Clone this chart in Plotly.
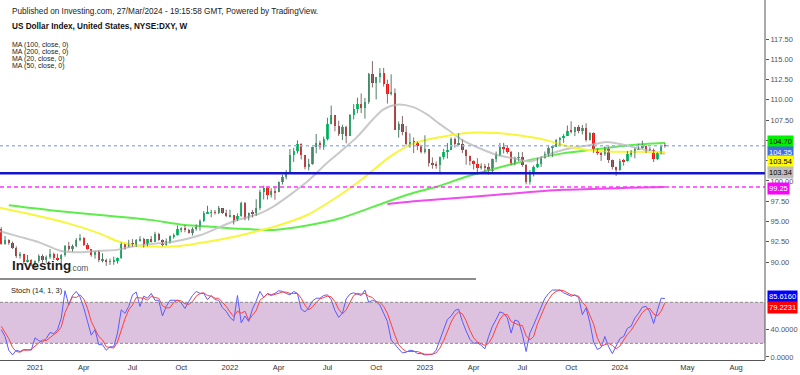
import plotly.graph_objects as go
import pandas as pd

# ---------------- DATA (weekly DXY candles) ----------------
week_start = "2020-11-02"

opens = [94.04, 92.20, 92.75, 92.39, 91.79, 90.70, 90.98, 90.02, 90.24,
         89.94, 90.10, 90.77, 90.23, 90.58, 91.04, 90.48, 90.36, 90.88, 91.98, 91.67, 91.92, 92.77, 93.02, 92.16, 91.56, 90.85, 91.28, 90.22, 90.31, 90.01, 90.03, 90.14, 90.55, 92.23, 91.85, 92.23, 92.12, 92.69, 92.90, 92.17, 92.80, 92.51, 93.50, 92.67, 92.13, 92.58, 93.20, 93.33, 94.04, 94.08, 93.96, 93.60, 94.12, 94.32, 95.12, 96.03, 96.09, 96.17, 96.09, 96.65, 96.00,
         95.67, 95.75, 95.17, 95.64, 97.27, 95.48, 96.08, 96.03, 96.61, 98.66, 99.13, 98.23, 98.80, 98.62, 99.83, 100.53, 101.12, 103.18, 103.66, 104.57, 103.15, 101.67, 102.15, 104.15, 104.69, 104.20, 105.14, 107.01, 108.07, 106.73, 105.85, 106.63, 105.57, 108.16, 108.82, 109.54, 109.00, 109.74, 113.19, 112.12, 112.76, 113.31, 111.98, 110.75, 110.87, 106.30, 106.98, 106.04, 104.54, 104.82, 104.70, 104.32,
         103.52, 103.89, 102.20, 101.99, 101.92, 102.92, 103.63, 103.86, 105.21, 104.52, 104.58, 103.86, 103.12, 102.51, 102.10, 101.55, 101.83, 101.66, 101.27, 102.69, 103.20, 104.21, 104.02, 103.56, 102.27, 102.89, 102.91, 101.92, 99.91, 101.07, 101.70, 102.04, 102.85, 103.37, 104.08, 104.24, 105.07, 105.32, 105.58, 106.17, 106.04, 106.65, 106.16, 106.56, 105.02, 105.87, 103.90, 103.40, 103.27, 104.00, 102.58, 101.70,
         101.33, 102.41, 102.40, 103.29, 103.47, 103.92, 104.11, 104.30, 103.86, 103.86, 102.71, 103.43, 104.43]

highs = [94.30, 93.21, 92.80, 92.53, 91.95, 91.25, 91.02, 90.87, 90.34,
         90.21, 90.95, 90.95, 90.81, 91.60, 91.16, 91.03, 90.98, 92.10, 92.50, 92.16, 92.94, 93.44, 93.07, 92.35, 91.58, 91.32, 91.43, 91.10, 90.42, 90.42, 90.67, 90.56, 92.40, 92.25, 92.74, 92.83, 92.84, 93.19, 93.00, 92.85, 93.20, 93.73, 93.60, 92.80, 92.91, 93.27, 93.53, 94.50, 94.28, 94.56, 94.10, 94.29, 94.64, 95.27, 96.27, 96.94, 96.45, 96.43, 96.91, 96.65, 96.46,
         96.46, 95.81, 96.00, 97.44, 97.40, 96.11, 96.43, 97.74, 98.93, 99.42, 99.29, 99.10, 99.25, 99.94, 100.76, 101.34, 103.93, 104.07, 105.01, 104.64, 103.22, 102.74, 104.24, 105.79, 104.96, 105.47, 107.79, 109.29, 108.08, 107.43, 106.93, 106.81, 108.25, 109.48, 110.27, 110.79, 110.23, 113.32, 114.78, 112.83, 113.92, 113.95, 112.48, 113.15, 111.41, 107.33, 108.00, 106.78, 105.87, 105.36, 104.87, 104.44,
         105.63, 103.95, 102.90, 102.39, 103.01, 103.96, 104.67, 105.36, 105.36, 105.88, 105.11, 103.90, 103.14, 102.54, 102.81, 102.17, 102.11, 102.20, 102.76, 103.63, 104.70, 104.70, 104.40, 103.70, 103.00, 103.55, 103.56, 102.07, 101.34, 101.90, 102.84, 103.03, 103.63, 104.44, 104.28, 105.16, 105.43, 105.78, 106.84, 107.35, 106.68, 106.89, 106.89, 107.11, 106.00, 106.00, 104.00, 103.57, 104.26, 104.25, 102.64, 101.76,
         102.73, 102.73, 103.69, 103.81, 104.10, 104.60, 104.97, 104.39, 104.16, 104.00, 103.52, 104.49, 104.73]

lows = [92.13, 92.13, 92.13, 91.61, 90.50, 90.42, 89.72, 89.95, 89.52,
        89.21, 89.92, 89.93, 89.91, 90.40, 90.25, 90.13, 89.68, 90.67, 91.36, 91.30, 91.82, 92.56, 91.97, 91.51, 90.66, 90.42, 89.98, 89.95, 89.53, 89.65, 89.66, 89.81, 90.39, 91.51, 91.82, 91.90, 91.86, 92.52, 91.78, 91.94, 92.41, 92.48, 92.62, 91.94, 92.01, 92.29, 92.88, 93.26, 93.67, 93.67, 93.50, 93.28, 93.87, 93.87, 94.95, 95.98, 95.52, 95.85, 95.91, 95.92, 95.53,
        95.50, 94.63, 95.07, 95.58, 95.14, 95.13, 95.50, 95.70, 96.40, 97.72, 97.71, 97.95, 97.68, 98.61, 99.56, 100.20, 100.95, 102.35, 103.38, 102.65, 101.43, 101.30, 102.00, 103.41, 103.87, 103.84, 104.99, 106.99, 106.12, 105.54, 105.05, 104.64, 105.54, 107.59, 108.35, 108.36, 107.68, 109.50, 111.53, 110.05, 112.11, 111.64, 109.54, 110.55, 106.27, 105.34, 105.63, 104.38, 104.09, 103.44, 103.80, 103.40,
        103.37, 101.77, 101.51, 101.50, 100.82, 102.64, 102.76, 103.80, 104.10, 104.31, 103.44, 102.02, 101.92, 101.41, 100.79, 101.40, 101.00, 100.79, 101.02, 102.30, 103.09, 103.40, 103.35, 101.92, 101.92, 102.40, 101.75, 99.58, 99.55, 100.55, 101.59, 101.73, 102.75, 103.00, 102.94, 104.16, 104.42, 104.70, 105.55, 105.86, 105.53, 105.88, 105.73, 104.84, 104.97, 103.45, 103.18, 102.47, 103.10, 102.22, 101.42, 100.62,
        101.26, 101.89, 102.38, 102.93, 102.79, 103.86, 103.99, 103.44, 103.71, 102.33, 102.57, 103.26, 104.09]

closes = [92.23, 92.75, 92.39, 91.79, 90.70, 90.98, 90.02, 90.24, 89.94,
          90.10, 90.77, 90.23, 90.58, 91.04, 90.48, 90.36, 90.88, 91.98, 91.67, 91.92, 92.77, 93.02, 92.16, 91.56, 90.85, 91.28, 90.22, 90.31, 90.01, 90.03, 90.14, 90.55, 92.23, 91.85, 92.23, 92.12, 92.69, 92.90, 92.17, 92.80, 92.51, 93.50, 92.67, 92.13, 92.58, 93.20, 93.33, 94.04, 94.08, 93.96, 93.60, 94.12, 94.32, 95.12, 96.03, 96.09, 96.17, 96.09, 96.65, 96.00, 95.67,
          95.75, 95.17, 95.64, 97.27, 95.48, 96.08, 96.03, 96.61, 98.66, 99.13, 98.23, 98.80, 98.62, 99.83, 100.53, 101.12, 103.18, 103.66, 104.57, 103.15, 101.67, 102.15, 104.15, 104.69, 104.20, 105.14, 107.01, 108.07, 106.73, 105.85, 106.63, 105.57, 108.16, 108.82, 109.54, 109.00, 109.74, 113.19, 112.12, 112.76, 113.31, 111.98, 110.75, 110.87, 106.30, 106.98, 106.04, 104.54, 104.82, 104.70, 104.32, 103.52,
          103.89, 102.20, 101.99, 101.92, 102.92, 103.63, 103.86, 105.21, 104.52, 104.58, 103.86, 103.12, 102.51, 102.10, 101.55, 101.83, 101.66, 101.27, 102.69, 103.20, 104.21, 104.02, 103.56, 102.27, 102.89, 102.91, 101.92, 99.91, 101.07, 101.70, 102.04, 102.85, 103.37, 104.08, 104.24, 105.07, 105.32, 105.58, 106.17, 106.04, 106.65, 106.16, 106.56, 105.02, 105.87, 103.90, 103.40, 103.27, 104.00, 102.58, 101.70, 101.33,
          102.41, 102.40, 103.29, 103.47, 103.92, 104.11, 104.30, 103.86, 103.86, 102.71, 103.43, 104.43, 104.35]

# Stochastic (14, 1, 3): %K (blue) and %D (red), one value per weekly candle
stoch_k = [40, 30, 10, 3, 10, 8, 11, 11, 10, 28, 24, 22, 27, 36, 34, 40, 57, 97, 76, 90,
           96, 88, 72, 52, 32, 40, 18, 18, 10, 15, 15, 35, 69, 64, 74, 91, 95, 74, 89, 86,
           93, 83, 83, 60, 74, 83, 83, 83, 79, 71, 81, 90, 96, 93, 93, 84, 90, 84, 83, 72,
           67, 58, 53, 90, 50, 60, 52, 70, 82, 96, 87, 93, 91, 93, 97, 96, 93, 91, 96, 93,
           70, 66, 72, 82, 86, 86, 90, 91, 84, 68, 58, 64, 85, 92, 94, 92, 90, 98, 80, 83,
           81, 76, 64, 52, 25, 18, 12, 6, 7, 10, 9, 5, 5, 3, 4, 4, 10, 25, 38, 55,
           60, 68, 70, 52, 38, 26, 20, 21, 17, 12, 30, 45, 55, 66, 64, 57, 35, 54, 52, 33,
           8, 35, 47, 61, 74, 86, 93, 98, 98, 98, 94, 91, 89, 91, 87, 62, 72, 50, 22, 11,
           14, 30, 15, 5, 15, 27, 30, 42, 45, 57, 64, 73, 74, 66, 49, 66, 86, 85.6160]
stoch_d = [45, 36, 27, 14, 8, 7, 10, 10, 11, 16, 21, 25, 24, 28, 32, 37, 44, 65, 77, 88,
           87, 91, 85, 71, 52, 41, 30, 25, 15, 14, 13, 22, 40, 56, 69, 76, 87, 87, 86, 83,
           89, 87, 86, 75, 72, 72, 80, 83, 82, 78, 77, 81, 89, 93, 94, 90, 89, 86, 86, 80,
           74, 66, 59, 67, 64, 67, 54, 61, 68, 83, 88, 92, 90, 92, 94, 95, 95, 93, 93, 93,
           86, 76, 69, 73, 80, 85, 87, 89, 88, 81, 70, 63, 69, 80, 90, 93, 92, 93, 89, 87,
           81, 80, 74, 64, 47, 32, 18, 12, 8, 8, 9, 8, 6, 4, 4, 4, 6, 13, 24, 39,
           51, 61, 66, 63, 53, 39, 28, 22, 19, 17, 20, 29, 43, 55, 62, 62, 52, 49, 47, 46,
           31, 25, 30, 48, 61, 74, 84, 92, 96, 98, 97, 94, 91, 90, 89, 80, 74, 61, 48, 28,
           16, 18, 20, 17, 12, 16, 24, 33, 39, 48, 55, 65, 70, 71, 63, 60, 67, 79.2231]

# Moving averages
ma20_dates = ["2020-10-30", "2020-12-07", "2021-01-13", "2021-02-20", "2021-03-29", "2021-05-05",
              "2021-06-06", "2021-06-25", "2021-08-07", "2021-09-19", "2021-11-08", "2022-01-09",
              "2022-02-28", "2022-03-24", "2022-05-27", "2022-07-03", "2022-07-28", "2022-08-28",
              "2022-09-27", "2022-10-16", "2022-11-11", "2022-12-11", "2023-01-06", "2023-01-30",
              "2023-02-12", "2023-03-14", "2023-04-15", "2023-05-17", "2023-06-16", "2023-07-17",
              "2023-08-11", "2023-09-05", "2023-10-05", "2023-11-05", "2023-12-07", "2024-01-06",
              "2024-02-12", "2024-03-25"]
ma20 = [93.8, 93.1, 92.4, 91.4, 91.2, 91.4, 91.5, 91.8, 92.2, 92.5, 93.3, 95.0,
        96.0, 96.8, 99.9, 102.2, 103.6, 105.4, 107.6, 108.8, 109.4, 109.1, 108.2, 107.0,
        106.4, 105.0, 104.0, 103.2, 102.8, 102.4, 103.0, 103.6, 104.1, 104.4, 104.8, 104.5,
        103.9, 103.34]

ma50_dates = ["2020-10-30", "2021-01-02", "2021-03-05", "2021-05-05", "2021-06-06", "2021-07-06",
              "2021-09-07", "2021-10-15", "2021-11-21", "2022-01-09", "2022-02-28", "2022-03-24",
              "2022-05-27", "2022-07-28", "2022-09-10", "2022-10-29", "2022-12-11", "2023-01-30",
              "2023-03-27", "2023-05-17", "2023-06-29", "2023-08-18", "2023-09-23", "2023-10-23",
              "2023-12-18", "2024-02-07", "2024-03-25"]
ma50 = [96.7, 95.8, 94.8, 93.5, 92.6, 92.1, 91.9, 92.1, 92.5, 93.1, 93.9, 94.3,
        95.8, 98.3, 100.4, 103.0, 104.6, 105.4, 105.95, 105.9, 105.6, 105.0, 104.3, 103.9,
        103.6, 103.6, 103.54]

ma100_dates = ["2020-11-16", "2021-02-01", "2021-05-05", "2021-08-07", "2021-10-07", "2021-12-10",
               "2022-01-22", "2022-03-24", "2022-05-27", "2022-07-28", "2022-09-27", "2022-11-30",
               "2023-01-30", "2023-03-14", "2023-05-17", "2023-07-17", "2023-09-16", "2023-11-18",
               "2024-01-19", "2024-03-25"]
ma100 = [97.0, 96.4, 95.8, 95.2, 94.6, 94.3, 94.1, 93.95, 94.5, 95.4, 96.8, 98.3,
         99.4, 100.4, 101.6, 102.6, 103.4, 103.9, 104.4, 104.70]

ma200_dates = ["2022-10-24", "2022-12-12", "2023-01-12", "2023-05-17", "2023-09-16", "2024-01-19",
               "2024-03-25"]
ma200 = [97.15, 97.5, 97.65, 98.3, 98.9, 99.15, 99.25]

support_level = 100.95

month_ticks = ["2021-01-04", "2021-04-05", "2021-07-05", "2021-10-04", "2022-01-03", "2022-04-04",
               "2022-07-04", "2022-10-03", "2023-01-02", "2023-04-03", "2023-07-03", "2023-10-02",
               "2024-01-01", "2024-05-06", "2024-08-05"]
month_labels = ["2021", "Apr", "Jul", "Oct", "2022", "Apr", "Jul", "Oct", "2023", "Apr", "Jul", "Oct",
                "2024", "May", "Aug"]
price_ticks = [90, 92.5, 95, 97.5, 100, 102.5, 105, 107.5, 110, 112.5, 115, 117.5]

# ---------------- FIGURE ----------------
FONT = "Liberation Sans, Arial, sans-serif"
UP = "#1fc173"
DOWN = "#f41414"
dates = pd.date_range(week_start, periods=len(closes), freq="7D")
week_ms = 7 * 24 * 3600 * 1000

fig = go.Figure()

# moving averages
for xs, ys, col in [(ma100_dates, ma100, "#5ded4a"), (ma200_dates, ma200, "#ee4cee"),
                    (ma20_dates, ma20, "#c9c9c9"), (ma50_dates, ma50, "#f7f53c")]:
    fig.add_trace(go.Scatter(x=xs, y=ys, mode="lines", line=dict(color=col, width=2, shape="spline", smoothing=0.8),
                             hoverinfo="skip"))

# wicks
for up in (True, False):
    wx, wy = [], []
    for d, o, h, l, c in zip(dates, opens, highs, lows, closes):
        if (c >= o) == up:
            wx += [d, d, None]
            wy += [l, h, None]
    fig.add_trace(go.Scatter(x=wx, y=wy, mode="lines",
                             line=dict(color="#4f7f66" if up else "#8a6a6a", width=1), hoverinfo="skip"))

# bodies
base = [min(o, c) for o, c in zip(opens, closes)]
height = [max(abs(c - o), 0.06) for o, c in zip(opens, closes)]
colors = [UP if c >= o else DOWN for o, c in zip(opens, closes)]
fig.add_trace(go.Bar(x=dates, y=height, base=base, width=week_ms * 0.62,
                     marker=dict(color=colors, line=dict(width=0)), hoverinfo="skip"))

# stochastic
fig.add_trace(go.Scatter(x=dates, y=stoch_k, mode="lines", line=dict(color="#5b5bff", width=1),
                         xaxis="x", yaxis="y2", hoverinfo="skip"))
fig.add_trace(go.Scatter(x=dates, y=stoch_d, mode="lines", line=dict(color="#ff4040", width=1),
                         xaxis="x", yaxis="y2", hoverinfo="skip"))

last_price = closes[-1]
shapes = [
    dict(type="rect", xref="paper", x0=0, x1=1, yref="y2", y0=20, y1=80, fillcolor="#dcc2de",
         line=dict(width=0), layer="below"),
    dict(type="line", xref="paper", x0=0, x1=1, yref="y2", y0=80, y1=80, line=dict(color="#8a8a8a", width=1, dash="3px,2px")),
    dict(type="line", xref="paper", x0=0, x1=1, yref="y2", y0=20, y1=20, line=dict(color="#8a8a8a", width=1, dash="3px,2px")),
    dict(type="line", xref="paper", x0=0, x1=1, yref="y", y0=support_level, y1=support_level,
         line=dict(color="#1414c8", width=2.5)),
    dict(type="line", xref="paper", x0=0, x1=1, yref="y", y0=ma200[-1], y1=ma200[-1],
         line=dict(color="#ff33ff", width=1.5, dash="4px,3px")),
    dict(type="line", xref="paper", x0=0, x1=1, yref="y", y0=last_price, y1=last_price,
         line=dict(color="#9db3f2", width=1.5, dash="dot")),
    dict(type="line", xref="paper", x0=0, x1=476 / 765, yref="paper", y0=1 - 279 / 360, y1=1 - 279 / 360,
         line=dict(color="#666", width=1.5)),
    dict(type="line", xref="paper", x0=1, x1=1, yref="paper", y0=0, y1=1, line=dict(color="#555", width=1)),
]

def py(p):
    return 1 - p / 360.0

ann = []
def txt(x, y, s, size=7.5, color="#222", bold=False):
    ann.append(dict(x=x / 765.0, xref="paper", y=py(y), yref="paper", xanchor="left", yanchor="middle",
                    text=("<b>%s</b>" % s) if bold else s, showarrow=False,
                    font=dict(family=FONT, size=size, color=color)))

txt(10, 12, "Published on Investing.com, 27/Mar/2024 - 19:15:58 GMT, Powered by TradingView.", 8.2, "#222")
txt(10, 27, "US Dollar Index, United States, NYSE:DXY, W", 8.2, "#111", True)
for i, s in enumerate(["MA (100, close, 0)", "MA (200, close, 0)", "MA (20, close, 0)", "MA (50, close, 0)"]):
    txt(10, 45 + 7 * i, s, 7, "#222")
txt(9, 290, "Stoch (14, 1, 3)", 7.5, "#222")
txt(10, 265, "Investing", 13.5, "#1e1e1e", True)
txt(68, 268, "<span style='color:#f7941d'>.</span>com", 8.5, "#555")

def badge(y, s, bg, fg):
    ann.append(dict(x=1, xref="paper", xshift=2, y=py(y), yref="paper", xanchor="left", yanchor="middle",
                    text=s, showarrow=False, bgcolor=bg, borderpad=1,
                    font=dict(family=FONT, size=7.5, color=fg)))

badge(142, "%.2f" % ma100[-1], "#00f000", "#000")
badge(152, "%.2f" % last_price, "#3f6fe0", "#fff")
badge(162, "%.2f" % ma50[-1], "#ffff00", "#000")
badge(172, "%.2f" % ma20[-1], "#bdbdbd", "#000")
badge(188, "%.2f" % ma200[-1], "#ff00ff", "#fff")
badge(296, "%.4f" % stoch_k[-1], "#0000ff", "#fff")
badge(307, "%.4f" % stoch_d[-1], "#ff0000", "#fff")

fig.update_layout(
    width=800, height=375, margin=dict(l=0, r=35, t=0, b=15),
    paper_bgcolor="white", plot_bgcolor="white", showlegend=False, bargap=0,
    font=dict(family=FONT),
    xaxis=dict(domain=[0, 1], anchor="y2", type="date", range=["2020-10-30 15:00", "2024-09-28"],
               tickvals=month_ticks, ticktext=month_labels, showgrid=False, zeroline=False,
               showline=True, linecolor="#555", linewidth=1, ticks="",
               tickfont=dict(family=FONT, size=7.5, color="#333")),
    yaxis=dict(domain=[1 - 279 / 360, 1], range=[87.91, 122.31], side="right", anchor="x",
               tickvals=price_ticks, ticktext=["%.2f" % v for v in price_ticks],
               showgrid=False, zeroline=False, showline=False, ticks="outside", ticklen=3,
               tickcolor="#555", tickfont=dict(family=FONT, size=7.5, color="#555")),
    yaxis2=dict(domain=[0, 1 - 283 / 360], range=[-4.4, 108.3], side="right", anchor="x",
                tickvals=[0, 40], ticktext=["0.0000", "40.0000"], showgrid=False, zeroline=False,
                showline=False, ticks="outside", ticklen=3, tickcolor="#555",
                tickfont=dict(family=FONT, size=7.5, color="#555")),
    shapes=shapes, annotations=ann,
)

fig.write_html("out.html", config={"displayModeBar": False},
               post_script="document.body.style.margin='0px';document.body.style.padding='0px';")
